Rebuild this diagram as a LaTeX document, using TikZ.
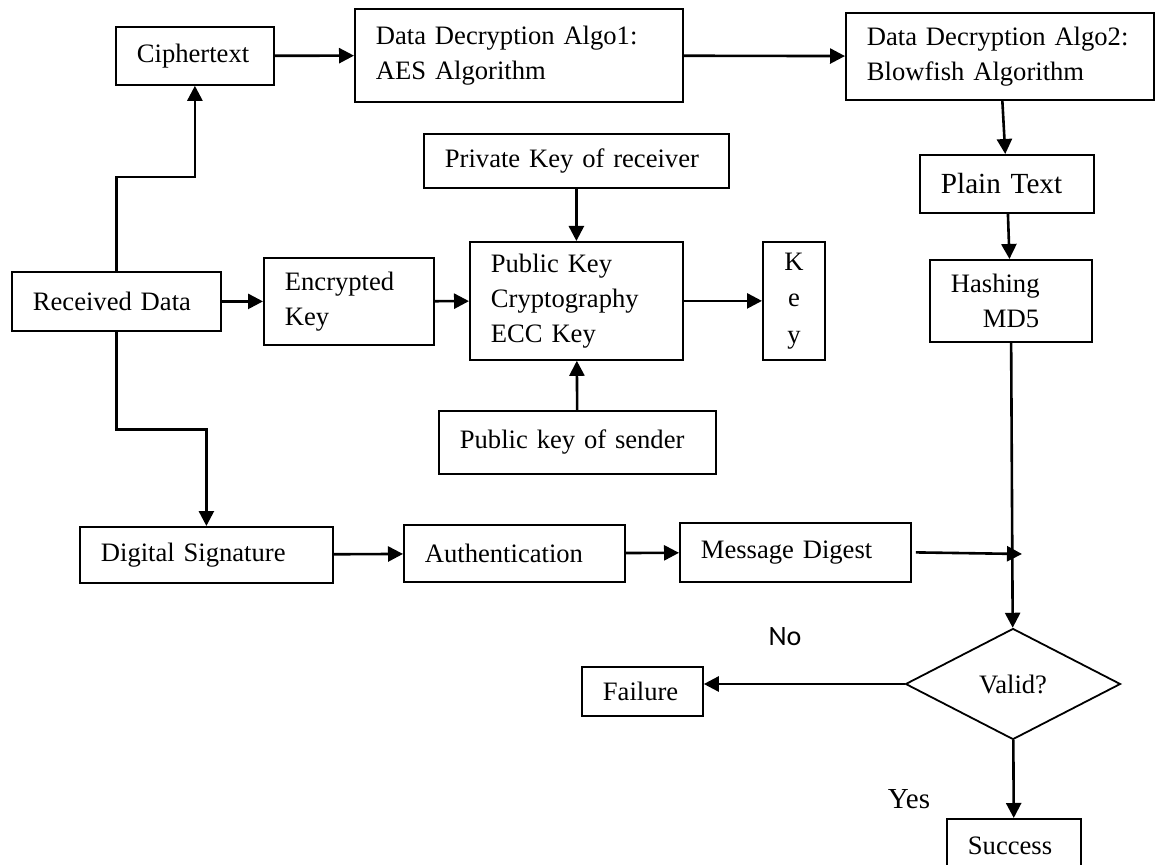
\documentclass[tikz,border=0pt]{standalone}
\usepackage{fontspec}
\setmainfont{Liberation Serif}
\newfontfamily\nofont{Carlito}
\usepackage{tikz}
\usetikzlibrary{arrows.meta,positioning,shapes.geometric,calc}
\tikzset{
  blk/.style={draw, line width=0.9pt, anchor=north west, align=left, inner xsep=10.5pt, inner ysep=0pt, font=\fontsize{13.3pt}{17.5pt}\selectfont},
  keyblk/.style={blk, align=center, inner xsep=0pt, font=\fontsize{13.3pt}{18.3pt}\selectfont},
  dec/.style={draw, diamond, aspect=2, line width=0.9pt, inner sep=0pt, minimum width=107.5pt, minimum height=55.5pt, font=\fontsize{13.3pt}{17.5pt}\selectfont},
  lbl/.style={inner sep=0pt},
  arrow/.style={-{Triangle[length=7.5pt,width=7.5pt]}, line width=1.3pt}
}

\begin{document}
\begin{tikzpicture}[x=0.5pt, y=-0.5pt]
  \useasboundingbox (0,0) rectangle (1155,865);

  % decryption path
  \node[blk, text width=58pt, minimum height=29pt] (cipher) at (115,26) {Ciphertext};
  \node[blk, text width=143pt, minimum height=46.5pt] (algoone) at (354,8) {Data Decryption Algo1:\\ AES Algorithm};
  \node[blk, text width=133pt, minimum height=43.5pt] (algotwo) at (845,12) {Data Decryption Algo2:\\ Blowfish Algorithm};
  \node[blk, text width=66pt, minimum height=29pt, font=\fontsize{14.6pt}{17.5pt}\selectfont] (plain) at (919,154) {Plain Text};
  \node[blk, text width=60pt, minimum height=41pt] (hash) at (929,259) {Hashing\\ \hspace*{16pt}MD5};

  % key path
  \node[blk, text width=83.5pt, minimum height=29.5pt] (recv) at (11,271) {Received Data};
  \node[blk, text width=64pt, minimum height=43.5pt] (enc) at (263,257) {Encrypted\\ Key};
  \node[blk, text width=85.5pt, minimum height=59pt] (pkc) at (469,241) {Public Key\\ Cryptography\\ ECC Key};
  \node[keyblk, text width=31pt, minimum height=59pt] (key) at (762,241) {K\\ e\\ y};
  \node[blk, text width=131.5pt, minimum height=27pt] (priv) at (423,133) {Private Key of receiver};
  \node[blk, text width=117.5pt, minimum height=31.5pt] (send) at (438,410) {Public key of sender};

  % signature path
  \node[blk, text width=105.5pt, minimum height=28pt] (dsig) at (79,526) {Digital Signature};
  \node[blk, text width=89.5pt, minimum height=28.5pt] (auth) at (403,524) {Authentication};
  \node[blk, text width=94.5pt, minimum height=29.5pt] (digest) at (679,522) {Message Digest};
  \coordinate (join) at (1022,554);

  % decision
  \node[dec] (valid) at (1013,684) {Valid?};
  \node[blk, text width=39.5pt, minimum height=24.5pt] (fail) at (581,666) {Failure};
  \node[blk, text width=46pt, minimum height=27pt] (succ) at (946,818) {Success};
  \node[lbl, font=\nofont\fontsize{14pt}{16pt}\selectfont] (no) at (785,637) {No};
  \node[lbl, font=\fontsize{14.5pt}{17pt}\selectfont] (yes) at (909,799) {Yes};

  \draw[arrow] (recv.north) -- ++(0,-94) -| (cipher.south);
  \draw[arrow] (cipher) -- (algoone);
  \draw[arrow] (algoone) -- (algotwo);
  \draw[arrow] (algotwo) -- (plain);
  \draw[arrow] (plain) -- (hash);
  \draw[arrow] (hash) -- (valid);
  \draw[arrow] (recv) -- (enc);
  \draw[arrow] (enc) -- (pkc);
  \draw[arrow] (priv) -- (pkc);
  \draw[arrow] (send) -- (pkc);
  \draw[arrow] (pkc) -- (key);
  \draw[arrow] (recv.south) -- ++(0,98) -| (dsig.north);
  \draw[arrow] (dsig) -- (auth);
  \draw[arrow] (auth) -- (digest);
  \draw[arrow] ([xshift=2pt]digest.east) -- (join);
  \draw[arrow] (valid.west) -- (valid.west -| fail.east);
  \draw[arrow] (valid) -- (succ);
\end{tikzpicture}
\end{document}
